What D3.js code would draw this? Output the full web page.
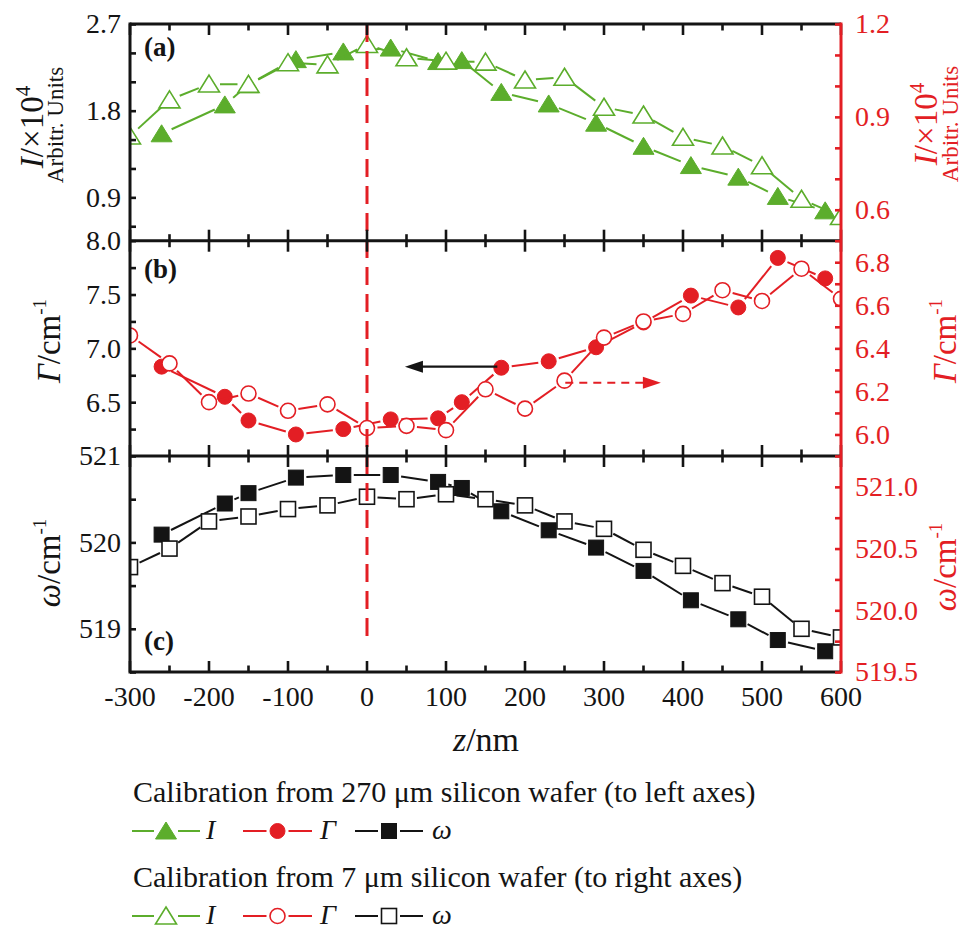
<!DOCTYPE html>
<html>
<head>
<meta charset="utf-8">
<script src="https://cdn.jsdelivr.net/npm/d3@7"></script>
<style>
  body { margin: 0; background: #fff; }
  svg { font-family: "Liberation Serif", "Times New Roman", serif; }
</style>
</head>
<body>
<svg id="chart" width="965" height="931"></svg>
<script>
// data
const zFilled = [-260, -180, -150, -90, -30, 30, 90, 120, 170, 230, 290, 350, 410, 470, 520, 580];
const zOpen = [-300, -250, -200, -150, -100, -50, 0, 50, 100, 150, 200, 250, 300, 350, 400, 450, 500, 550, 600];

const intensity270 = [1.56, 1.86, 2.07, 2.33, 2.41, 2.45, 2.31, 2.32, 1.99, 1.87, 1.67, 1.43, 1.23, 1.11, 0.91, 0.76];
const intensity7 = [0.838, 0.955, 1.006, 1.005, 1.075, 1.068, 1.134, 1.091, 1.08, 1.077, 1.019, 1.028, 0.931, 0.906, 0.834, 0.806, 0.742, 0.634, 0.578];

const gamma270 = [6.83, 6.55, 6.33, 6.20, 6.25, 6.34, 6.35, 6.50, 6.82, 6.88, 7.01, 7.24, 7.49, 7.38, 7.84, 7.65];
const gamma7 = [6.46, 6.33, 6.15, 6.19, 6.11, 6.14, 6.03, 6.04, 6.02, 6.21, 6.12, 6.25, 6.45, 6.525, 6.56, 6.67, 6.62, 6.77, 6.63];

const omega270 = [520.09, 520.45, 520.57, 520.75, 520.78, 520.78, 520.70, 520.63, 520.36, 520.14, 519.94, 519.67, 519.33, 519.11, 518.87, 518.74];
const omega7 = [520.35, 520.50, 520.72, 520.76, 520.82, 520.85, 520.92, 520.90, 520.94, 520.90, 520.85, 520.72, 520.66, 520.49, 520.36, 520.22, 520.11, 519.85, 519.78];

// ticks
const zTicks = [-300, -250, -200, -150, -100, -50, 0, 50, 100, 150, 200, 250, 300, 350, 400, 450, 500, 550, 600];
const zLabels = [-300, -200, -100, 0, 100, 200, 300, 400, 500, 600];
const aLeftTicks = [0.6, 0.9, 1.2, 1.5, 1.8, 2.1, 2.4, 2.7];
const aLeftLabels = [0.9, 1.8, 2.7];
const aRightTicks = [0.5, 0.6, 0.7, 0.8, 0.9, 1.0, 1.1, 1.2];
const aRightLabels = [0.6, 0.9, 1.2];
const bLeftTicks = [6.25, 6.5, 6.75, 7.0, 7.25, 7.5, 7.75, 8.0];
const bLeftLabels = [6.5, 7.0, 7.5, 8.0];
const bRightTicks = [6.0, 6.1, 6.2, 6.3, 6.4, 6.5, 6.6, 6.7, 6.8];
const bRightLabels = [6.0, 6.2, 6.4, 6.6, 6.8];
const cLeftTicks = [518.5, 519, 519.5, 520, 520.5, 521];
const cLeftLabels = [519, 520, 521];
const cRightTicks = [519.5, 519.75, 520, 520.25, 520.5, 520.75, 521, 521.25];
const cRightLabels = [519.5, 520, 520.5, 521];

// arrows in panel (b): z from -> to, at a Γ level
const arrowLeftZ = [165, 48];
const arrowLeftGamma = 6.83;   // left axis
const arrowRightZ = [251, 372];
const arrowRightGamma = 6.24;  // right axis

const green = '#5cad2c';
const red = '#e31e24';
const black = '#141414';

const svg = d3.select('#chart');
const plotLeft = 130, plotRight = 841;
const panelTop = [24, 240.7, 456];
const panelBottom = [240.7, 456, 672];

const x = d3.scaleLinear().domain([-300, 600]).range([plotLeft, plotRight]);

const yA = d3.scaleLinear().domain([0.45, 2.7]).range([panelBottom[0], panelTop[0]]);
const yAr = d3.scaleLinear().domain([0.5, 1.2]).range([panelBottom[0], panelTop[0]]);
const yB = d3.scaleLinear().domain([6.0, 8.0]).range([panelBottom[1], panelTop[1]]);
const yBr = d3.scaleLinear().domain([5.9, 6.9]).range([panelBottom[1], panelTop[1]]);
const yC = d3.scaleLinear().domain([518.5, 521]).range([panelBottom[2], panelTop[2]]);
const yCr = d3.scaleLinear().domain([519.5, 521.25]).range([panelBottom[2], panelTop[2]]);

// clip per panel
const defs = svg.append('defs');
panelTop.forEach((t, i) => {
  defs.append('clipPath').attr('id', 'clip' + i)
    .append('rect')
    .attr('x', plotLeft).attr('y', t)
    .attr('width', plotRight - plotLeft).attr('height', panelBottom[i] - t);
});

// marker shapes
const shapes = {
  tri: (g) => g.append('path').attr('d', 'M0,-9 L10.5,8 L-10.5,8 Z'),
  circle: (g) => g.append('circle').attr('r', 7.5),
  square: (g) => g.append('rect').attr('x', -7.5).attr('y', -7.5).attr('width', 15).attr('height', 15),
};

function drawSeries(panel, zs, vs, yScale, shape, color, filled) {
  const g = svg.append('g').attr('clip-path', `url(#clip${panel})`);
  const pts = zs.map((z, i) => [x(z), yScale(vs[i])]);
  const gap = shape === 'tri' ? 11 : 10.5;
  // segments broken around markers
  for (let i = 0; i < pts.length - 1; i++) {
    const [x0, y0] = pts[i], [x1, y1] = pts[i + 1];
    const len = Math.hypot(x1 - x0, y1 - y0);
    if (len <= 2 * gap) continue;
    const ux = (x1 - x0) / len, uy = (y1 - y0) / len;
    g.append('line')
      .attr('x1', x0 + ux * gap).attr('y1', y0 + uy * gap)
      .attr('x2', x1 - ux * gap).attr('y2', y1 - uy * gap)
      .attr('stroke', color).attr('stroke-width', 2);
  }
  pts.forEach(([px, py]) => {
    const m = g.append('g').attr('transform', `translate(${px},${py})`);
    shapes[shape](m)
      .attr('fill', filled ? color : '#fff')
      .attr('stroke', color)
      .attr('stroke-width', filled ? 1 : 1.6);
  });
}

// x tick helper
function xTicks(y, dir) {
  // dir: -1 up, 1 down, 0 both
  const major = (z) => zLabels.includes(z);
  zTicks.forEach((z) => {
    const len = major(z) ? 11 : 6.5;
    const y0 = dir === 1 ? y : y - len;
    const y1 = dir === -1 ? y : y + len;
    svg.append('line')
      .attr('x1', x(z)).attr('x2', x(z))
      .attr('y1', y0).attr('y2', y1)
      .attr('stroke', black).attr('stroke-width', 2.6);
  });
}

// data
drawSeries(0, zFilled, intensity270, yA, 'tri', green, true);
drawSeries(0, zOpen, intensity7, yAr, 'tri', green, false);
drawSeries(1, zFilled, gamma270, yB, 'circle', red, true);
drawSeries(1, zOpen, gamma7, yBr, 'circle', red, false);
drawSeries(2, zFilled, omega270, yC, 'square', black, true);
drawSeries(2, zOpen, omega7, yCr, 'square', black, false);

// dashed line at z = 0
svg.append('line')
  .attr('x1', x(0)).attr('x2', x(0))
  .attr('y1', panelTop[0]).attr('y2', 641)
  .attr('stroke', red).attr('stroke-width', 3)
  .attr('stroke-dasharray', '18 9');

// arrows in (b)
{
  const ya = yB(arrowLeftGamma);
  const xs = x(arrowLeftZ[0]), xe = x(arrowLeftZ[1]);
  svg.append('line').attr('x1', xs).attr('x2', xe + 14).attr('y1', ya).attr('y2', ya)
    .attr('stroke', black).attr('stroke-width', 2.2);
  svg.append('path').attr('d', `M${xe},${ya} L${xe + 18},${ya - 6} L${xe + 18},${ya + 6} Z`)
    .attr('fill', black);

  const yr = yBr(arrowRightGamma);
  const rs = x(arrowRightZ[0]), re = x(arrowRightZ[1]);
  svg.append('line').attr('x1', rs).attr('x2', re - 16).attr('y1', yr).attr('y2', yr)
    .attr('stroke', red).attr('stroke-width', 2).attr('stroke-dasharray', '8 6');
  svg.append('path').attr('d', `M${re},${yr} L${re - 18},${yr - 6} L${re - 18},${yr + 6} Z`)
    .attr('fill', red);
}

// frame lines
svg.append('line').attr('x1', plotLeft).attr('x2', plotRight).attr('y1', panelTop[0]).attr('y2', panelTop[0])
  .attr('stroke', black).attr('stroke-width', 3);
[panelTop[1], panelTop[2], panelBottom[2]].forEach((yy) => {
  svg.append('line').attr('x1', plotLeft).attr('x2', plotRight).attr('y1', yy).attr('y2', yy)
    .attr('stroke', black).attr('stroke-width', 3);
});
xTicks(panelTop[0], 1);
xTicks(panelTop[1], 0);
xTicks(panelTop[2], 0);
xTicks(panelBottom[2], -1);

svg.append('line').attr('x1', plotLeft).attr('x2', plotLeft)
  .attr('y1', panelTop[0] - 1.5).attr('y2', panelBottom[2] + 1.5)
  .attr('stroke', black).attr('stroke-width', 3);
svg.append('line').attr('x1', plotRight).attr('x2', plotRight)
  .attr('y1', panelTop[0] - 1.5).attr('y2', panelBottom[2] + 1.5)
  .attr('stroke', red).attr('stroke-width', 3);

// x tick labels
svg.append('g').selectAll('text').data(zLabels).join('text')
  .attr('x', (d) => x(d)).attr('y', 706)
  .attr('text-anchor', 'middle')
  .attr('font-size', 28).attr('fill', black)
  .text((d) => d);

// y axes
function yAxis(scale, ticks, labels, fmt, side) {
  const color = side === 'left' ? black : red;
  const axis = (side === 'left' ? d3.axisLeft(scale) : d3.axisRight(scale))
    .tickValues(ticks)
    .tickSize(-6)
    .tickSizeOuter(0)
    .tickPadding(side === 'left' ? 9 : 14)
    .tickFormat((d) => (labels.includes(d) ? d3.format(fmt)(d) : ''));
  const g = svg.append('g')
    .attr('transform', `translate(${side === 'left' ? plotLeft : plotRight},0)`)
    .call(axis);
  g.select('.domain').remove();
  g.selectAll('.tick line').attr('stroke', color).attr('stroke-width', 2.6);
  g.selectAll('.tick text')
    .attr('fill', color)
    .attr('font-size', 28)
    .attr('font-family', '"Liberation Serif", "Times New Roman", serif');
}
yAxis(yA, aLeftTicks, aLeftLabels, '.1f', 'left');
yAxis(yAr, aRightTicks, aRightLabels, '.1f', 'right');
yAxis(yB, bLeftTicks, bLeftLabels, '.1f', 'left');
yAxis(yBr, bRightTicks, bRightLabels, '.1f', 'right');
yAxis(yC, cLeftTicks, cLeftLabels, 'd', 'left');
yAxis(yCr, cRightTicks, cRightLabels, '.1f', 'right');

// panel letters
[['(a)', 56], ['(b)', 278], ['(c)', 650]].forEach(([t, yy]) => {
  svg.append('text').attr('x', 144).attr('y', yy)
    .attr('font-size', 27).attr('font-weight', 'bold').attr('fill', black).text(t);
});

// axis titles
function rotTitle(xb, yc, color, build) {
  const t = svg.append('text')
    .attr('transform', `translate(${xb},${yc}) rotate(-90)`)
    .attr('text-anchor', 'middle')
    .attr('fill', color);
  build(t);
  return t;
}
function intensityTitle(t) {
  t.attr('font-size', 33);
  t.append('tspan').attr('font-style', 'italic').text('I');
  t.append('tspan').text('/×10');
  t.append('tspan').attr('dy', -13).attr('font-size', 21).text('4');
}
function perCm(symbol) {
  return (t) => {
    t.attr('font-size', 33);
    t.append('tspan').attr('font-style', 'italic').text(symbol);
    t.append('tspan').text('/cm');
    t.append('tspan').attr('dy', -14).attr('font-size', 19).text('-1');
  };
}
rotTitle(43, 127, black, intensityTitle);
rotTitle(63, 125, black, (t) => t.attr('font-size', 23).text('Arbitr. Units'));
rotTitle(937, 124, red, intensityTitle);
rotTitle(958, 124, red, (t) => t.attr('font-size', 23).text('Arbitr. Units'));
rotTitle(60, 341, black, perCm('Γ'));
rotTitle(956, 341, red, perCm('Γ'));
rotTitle(60, 563, black, perCm('ω'));
rotTitle(956, 567, red, perCm('ω'));

const zTitle = svg.append('text').attr('x', 486).attr('y', 751)
  .attr('text-anchor', 'middle').attr('font-size', 34).attr('fill', black);
zTitle.append('tspan').attr('font-style', 'italic').text('z');
zTitle.append('tspan').text('/nm');

// legend
const legendRows = [
  { title: 'Calibration from 270 μm silicon wafer (to left axes)', y: 802, filled: true },
  { title: 'Calibration from 7 μm silicon wafer (to right axes)', y: 887, filled: false },
];
const legendItems = [
  { shape: 'tri', color: green, x0: 132, x1: 200, label: 'I', lx: 206 },
  { shape: 'circle', color: red, x0: 243, x1: 312, label: 'Γ', lx: 320 },
  { shape: 'square', color: black, x0: 355, x1: 423, label: 'ω', lx: 432 },
];
legendRows.forEach((row) => {
  svg.append('text').attr('x', 133).attr('y', row.y)
    .attr('font-size', 30).attr('fill', black).text(row.title);
  const ym = row.y + 29;
  legendItems.forEach((it) => {
    const xm = (it.x0 + it.x1) / 2;
    const gap = it.shape === 'tri' ? 12 : 11;
    svg.append('line').attr('x1', it.x0).attr('x2', xm - gap).attr('y1', ym).attr('y2', ym)
      .attr('stroke', it.color).attr('stroke-width', 2);
    svg.append('line').attr('x1', xm + gap).attr('x2', it.x1).attr('y1', ym).attr('y2', ym)
      .attr('stroke', it.color).attr('stroke-width', 2);
    const m = svg.append('g').attr('transform', `translate(${xm},${ym})`);
    shapes[it.shape](m)
      .attr('fill', row.filled ? it.color : '#fff')
      .attr('stroke', it.color)
      .attr('stroke-width', row.filled ? 1 : 1.6);
    svg.append('text').attr('x', it.lx).attr('y', ym + 8)
      .attr('font-size', 28).attr('font-style', 'italic').attr('fill', black).text(it.label);
  });
});
</script>
</body>
</html>
